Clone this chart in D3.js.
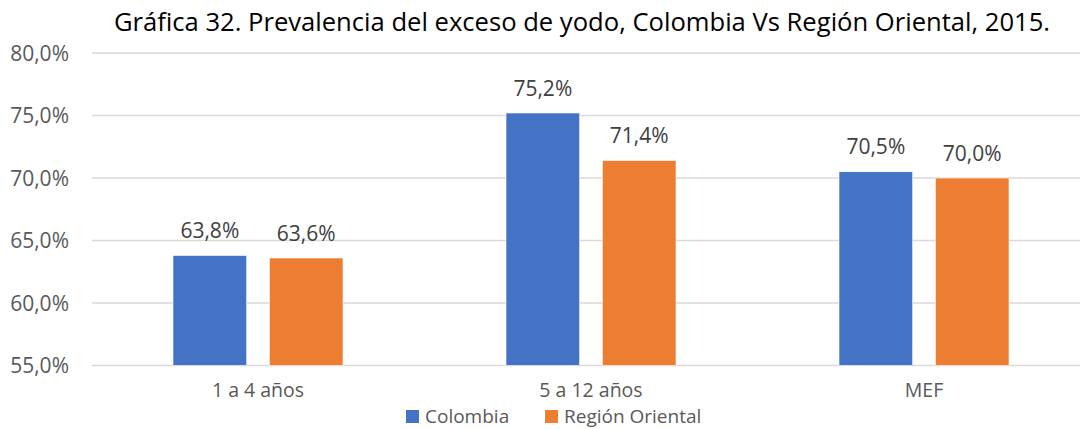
<!DOCTYPE html>
<html>
<head>
<meta charset="utf-8">
<script src="https://cdn.jsdelivr.net/npm/d3@7"></script>
<style>
  body { margin: 0; background: #fff; }
  text { font-family: "Open Sans", sans-serif; }
</style>
</head>
<body>
<script>
// data
var categories = ["1 a 4 años", "5 a 12 años", "MEF"];
var seriesNames = ["Colombia", "Región Oriental"];
var colombia = [63.8, 75.2, 70.5];
var oriental = [63.6, 71.4, 70.0];
var yTicks = [55, 60, 65, 70, 75, 80];
var colors = ["#4472C4", "#ED7D31"];

var width = 1080, height = 429;

var svg = d3.select("body").append("svg")
    .attr("width", width)
    .attr("height", height);

// the plot area runs a bit past the right edge of the picture
var x0 = d3.scaleBand()
    .domain(categories)
    .range([91.5, 1090.5])
    .padding(0);

var groupW = 170;
var x1 = d3.scaleBand()
    .domain(seriesNames)
    .range([0, groupW])
    .paddingInner(0.235);

var y = d3.scaleLinear()
    .domain([55, 80])
    .range([365.5, 53]);

// gridlines
svg.append("g")
  .selectAll("line")
  .data(yTicks)
  .enter().append("line")
    .attr("x1", 92)
    .attr("x2", width)
    .attr("y1", function(d) { return y(d); })
    .attr("y2", function(d) { return y(d); })
    .attr("stroke", "#d9d9d9")
    .attr("stroke-width", 1.3);

// y labels
var fmt = function(v) { return v.toFixed(1).replace(".", ",") + "%"; };
svg.append("g")
  .selectAll("text")
  .data(yTicks)
  .enter().append("text")
    .attr("x", 69)
    .attr("y", function(d) { return y(d); })
    .attr("dy", "0.36em")
    .attr("text-anchor", "end")
    .attr("font-size", 21)
    .attr("fill", "#595959")
    .text(fmt);

var rows = categories.map(function(c, i) {
  return {cat: c, vals: [colombia[i], oriental[i]]};
});

var groups = svg.append("g")
  .selectAll("g")
  .data(rows)
  .enter().append("g")
    .attr("transform", function(d) {
      return "translate(" + (x0(d.cat) + (x0.bandwidth() - groupW) / 2) + ",0)";
    });

groups.selectAll("rect")
  .data(function(d) { return d.vals.map(function(v, j) { return {name: seriesNames[j], v: v, j: j}; }); })
  .enter().append("rect")
    .attr("x", function(d) { return x1(d.name); })
    .attr("width", x1.bandwidth())
    .attr("y", function(d) { return y(d.v); })
    .attr("height", function(d) { return y(55) - y(d.v); })
    .attr("fill", function(d) { return colors[d.j]; })
    .attr("stroke", "#fff")
    .attr("stroke-width", 0.6);

groups.selectAll("text")
  .data(function(d) { return d.vals.map(function(v, j) { return {name: seriesNames[j], v: v}; }); })
  .enter().append("text")
    .attr("x", function(d) { return x1(d.name) + x1.bandwidth() / 2; })
    .attr("y", function(d) { return y(d.v) - 17.5; })
    .attr("text-anchor", "middle")
    .attr("font-size", 21)
    .attr("fill", "#404040")
    .text(function(d) { return fmt(d.v); });

// category labels
svg.append("g")
  .selectAll("text")
  .data(categories)
  .enter().append("text")
    .attr("x", function(d) { return x0(d) + x0.bandwidth() / 2; })
    .attr("y", 397)
    .attr("text-anchor", "middle")
    .attr("font-size", 19.5)
    .attr("fill", "#595959")
    .text(function(d) { return d; });

// title
svg.append("text")
    .attr("x", 582)
    .attr("y", 31)
    .attr("text-anchor", "middle")
    .attr("font-size", 25.6)
    .attr("fill", "#000")
    .text("Gráfica 32. Prevalencia del exceso de yodo, Colombia Vs Región Oriental, 2015.");

// legend
var legendX = [406, 545];
var legend = svg.append("g")
  .selectAll("g")
  .data(seriesNames)
  .enter().append("g")
    .attr("transform", function(d, i) { return "translate(" + legendX[i] + ",410)"; });

legend.append("rect")
    .attr("width", 13)
    .attr("height", 13)
    .attr("fill", function(d, i) { return colors[i]; });

legend.append("text")
    .attr("x", 19)
    .attr("y", 13.2)
    .attr("font-size", 19)
    .attr("fill", "#595959")
    .text(function(d) { return d; });
</script>
</body>
</html>
